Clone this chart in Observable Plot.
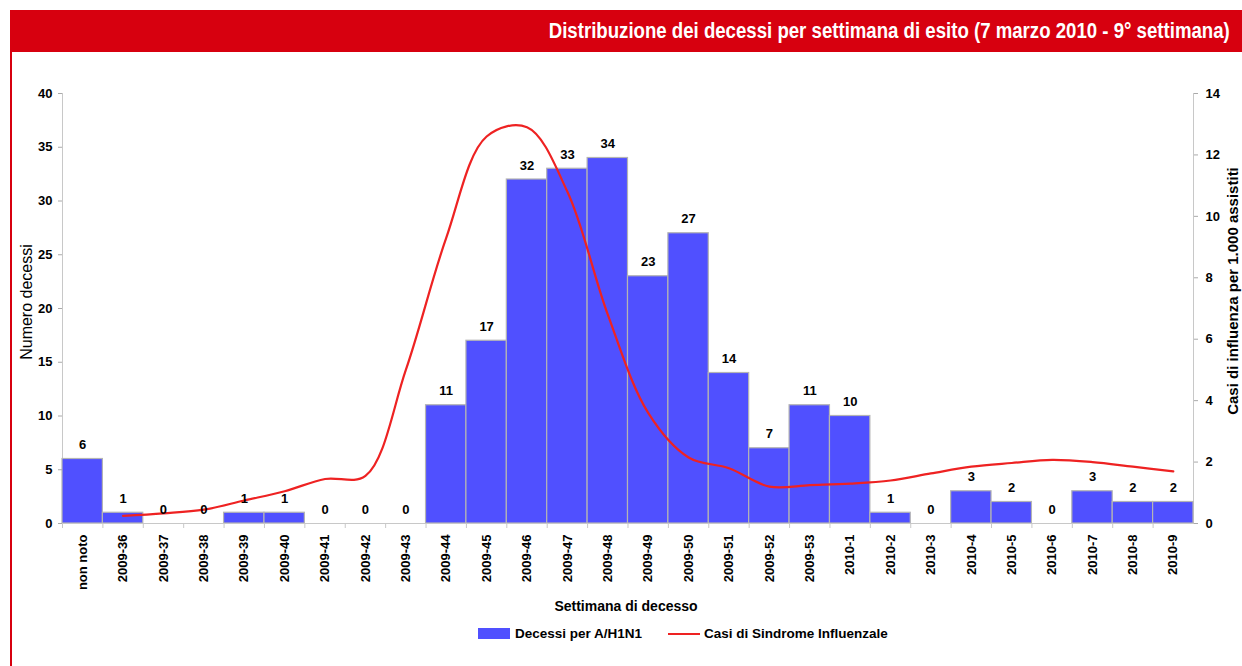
<!DOCTYPE html>
<html>
<head>
<meta charset="utf-8">
<script src="https://cdn.jsdelivr.net/npm/d3@7"></script>
<script src="https://cdn.jsdelivr.net/npm/@observablehq/plot@0.6"></script>
<style>
  html, body { margin: 0; padding: 0; background: #fff; }
  body { width: 1242px; height: 666px; position: relative; overflow: hidden; font-family: "Liberation Sans", Arial, sans-serif; }
  #titlebar { position: absolute; left: 10px; top: 10px; width: 1232px; height: 42px; background: #D7000F; }
  #titletext { position: absolute; right: 12px; top: 0; height: 42px; line-height: 42px; white-space: nowrap;
    color: #fff; font-family: "Liberation Sans", Arial, sans-serif; font-weight: bold; font-size: 22px;
    transform-origin: right center; }
  #leftborder { position: absolute; left: 10px; top: 52px; width: 1.5px; height: 614px; background: #D7000F; }
  #chart { position: absolute; left: 0; top: 52px; }
  .ylab { position: absolute; white-space: nowrap; transform: translate(-50%, -50%) rotate(-90deg); color: #000; }
  #ylabL { left: 27px; top: 302px; font-size: 16px; font-weight: normal; }
  #ylabR { left: 1232px; top: 291px; font-size: 15px; font-weight: bold; }
  #xlabel { position: absolute; top: 598px; left: 0; width: 1252px; text-align: center; font-weight: bold; font-size: 14px; }
  #legend { position: absolute; top: 626px; left: 478px; font-weight: bold; font-size: 13.5px; display: flex; align-items: center; }
  .sw { display: inline-block; width: 32px; height: 11px; background: #5050FF; margin-right: 5px; }
  .ln { display: inline-block; width: 32px; height: 2px; background: #EE2222; margin-right: 4px; margin-left: 26px; }
</style>
</head>
<body>
<div id="titlebar"><span id="titletext">Distribuzione dei decessi per settimana di esito (7 marzo 2010 - 9° settimana)</span></div>
<div id="leftborder"></div>
<div id="chart"></div>
<div class="ylab" id="ylabL">Numero decessi</div>
<div class="ylab" id="ylabR">Casi di influenza per 1.000 assistiti</div>
<div id="xlabel">Settimana di decesso</div>
<div id="legend"><span class="sw"></span><span>Decessi per A/H1N1</span><span class="ln"></span><span>Casi di Sindrome Influenzale</span></div>
<script>
const categories = ["non noto","2009-36","2009-37","2009-38","2009-39","2009-40","2009-41","2009-42","2009-43","2009-44","2009-45","2009-46","2009-47","2009-48","2009-49","2009-50","2009-51","2009-52","2009-53","2010-1","2010-2","2010-3","2010-4","2010-5","2010-6","2010-7","2010-8","2010-9"];
const deaths = [6,1,0,0,1,1,0,0,0,11,17,32,33,34,23,27,14,7,11,10,1,0,3,2,0,3,2,2];
const iliWeeks = categories.slice(1);
const iliValues = [0.25,0.33,0.45,0.75,1.05,1.45,1.55,5.0,9.3,12.6,12.9,10.8,6.8,3.6,2.15,1.8,1.2,1.25,1.3,1.4,1.63,1.85,1.97,2.07,2.0,1.85,1.7];
const leftTicks = [0,5,10,15,20,25,30,35,40];
const rightTicks = [0,2,4,6,8,10,12,14];
const leftMax = 40, rightMax = 14;
const k = leftMax / rightMax;

const barData = categories.map((c, i) => ({cat: c, v: deaths[i]}));
const lineData = iliWeeks.map((c, i) => ({cat: c, v: iliValues[i] * k}));

const chart = Plot.plot({
  width: 1242,
  height: 570,
  marginTop: 41,
  marginBottom: 99,
  marginLeft: 62,
  marginRight: 49,
  style: {fontFamily: "'Liberation Sans', Arial, sans-serif", fontSize: "13px", fontWeight: "bold", color: "#000", background: "transparent"},
  x: {type: "band", domain: categories, padding: 0, round: false},
  y: {domain: [0, leftMax]},
  marks: [
    Plot.frame({anchor: "left", stroke: "#c8c8c8"}),
    Plot.frame({anchor: "right", stroke: "#c8c8c8"}),
    Plot.barY(barData, {x: "cat", y: "v", fill: "#5050FF", stroke: "#b4b4b4", strokeWidth: 1.2, inset: 0}),
    Plot.ruleY([0], {stroke: "#c8c8c8"}),
    Plot.axisX({tickSize: 5, stroke: "#c8c8c8", tickFormat: () => "", dx: -20.2, label: null}),
    Plot.axisX({tickSize: 0, tickPadding: 11, tickRotate: -90, label: null, fill: "#000"}),
    Plot.axisY({ticks: leftTicks, tickSize: 4, stroke: "#aaa", fill: "#000", tickPadding: 6, label: null}),
    Plot.axisY({anchor: "right", ticks: rightTicks.map(v => v * k), tickFormat: d => Math.round(d / k), tickSize: 4,
      stroke: "#aaa", fill: "#000", tickPadding: 8, label: null}),
    Plot.line(lineData, {x: "cat", y: "v", stroke: "#EE2222", strokeWidth: 2.2, curve: "catmull-rom"}),
    Plot.text(barData, {x: "cat", y: "v", text: d => String(d.v), dy: -14, fill: "#000", fontWeight: "bold", fontSize: 13})
  ]
});
document.getElementById("chart").appendChild(chart);

// fit the title into the width it takes in the reference (condensed look)
const tt = document.getElementById("titletext");
const w = tt.getBoundingClientRect().width;
tt.style.transform = `scaleX(${681 / w})`;
</script>
</body>
</html>
